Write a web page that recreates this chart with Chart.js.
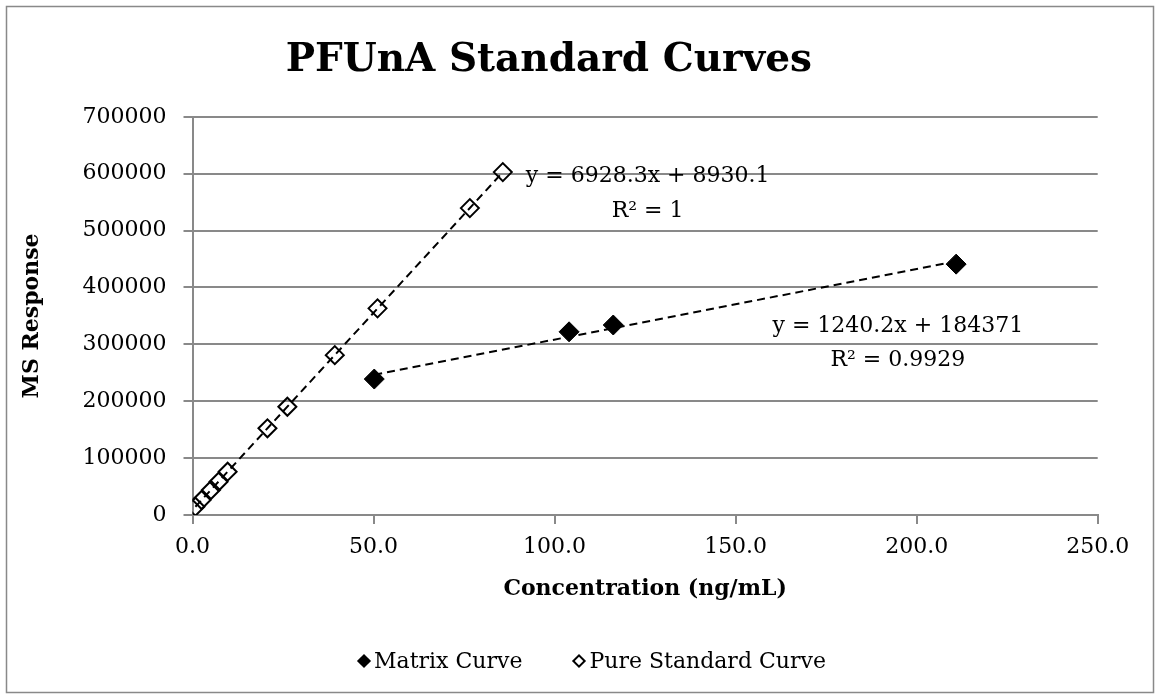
<!DOCTYPE html>
<html>
<head>
<meta charset="utf-8">
<script src="https://cdn.jsdelivr.net/npm/chart.js@4.4.0/dist/chart.umd.min.js"></script>
<style>
  html, body { margin: 0; padding: 0; background: #fff; }
  #wrap { position: relative; width: 1159px; height: 698px; }
  #legend {
    position: absolute; left: 26px; right: 0; top: 646px; height: 30px;
    display: flex; justify-content: center; align-items: center;
    font: 22px 'DejaVu Serif', serif; color: #000; gap: 52px;
  }
  .item { display: flex; align-items: center; gap: 5px; line-height: 30px; }
  .mark { width: 10px; height: 10px; transform: rotate(45deg); box-sizing: border-box; }
  .mark.filled { background: #000; }
  .mark.open { background: #fff; border: 2px solid #000; }
</style>
</head>
<body>
<div id="wrap">
  <canvas id="chartCurves" width="1159" height="698"></canvas>
  <div id="legend"></div>
</div>
<script>
// --- DATA ---
const matrixConc = [50.2, 104.0, 116.2, 210.9];
const matrixResp = [239000, 322000, 334000, 441000];

const pureConc = [0.8, 2.5, 5.1, 7.2, 9.7, 20.7, 26.2, 39.3, 51.1, 76.6, 85.7];
const pureResp = [14600, 26400, 43900, 58500, 76100, 152400, 190300, 281000, 363300, 539500, 602800];

// linear fit coefficients (slope, intercept) and R² shown on the chart
const matrixFit = [1240.2, 184371];
const pureFit = [6928.3, 8930.1];
const matrixR2 = '0.9929';
const pureR2 = '1';

const xTicks = [0, 50, 100, 150, 200, 250];
const yTicks = [0, 100000, 200000, 300000, 400000, 500000, 600000, 700000];

// --- HELPERS ---
const toPoints = (xs, ys) => xs.map((x, i) => ({ x: x, y: ys[i] }));
// trendline runs between the smallest and largest concentration of a series
const fitLine = (xs, fit) => [Math.min(...xs), Math.max(...xs)].map(x => ({ x: x, y: fit[0] * x + fit[1] }));
const eqText = fit => 'y = ' + fit[0] + 'x + ' + fit[1];

const FONT = "'DejaVu Serif', serif";
const GRID = '#898989';

Chart.defaults.font.family = FONT;
Chart.defaults.color = '#000';

// outer frame of the chart
const framePlugin = {
    id: 'frame',
    beforeDraw(chart) {
        const ctx = chart.ctx;
        ctx.save();
        ctx.fillStyle = '#fff';
        ctx.fillRect(0, 0, chart.width, chart.height);
        ctx.strokeStyle = GRID;
        ctx.lineWidth = 1.5;
        ctx.strokeRect(6.5, 6.5, chart.width - 12, chart.height - 12);
        ctx.restore();
    }
};

// regression equations, anchored in data coordinates
const equationPlugin = {
    id: 'equations',
    afterDatasetsDraw(chart, args, opts) {
        const { ctx, scales } = chart;
        ctx.save();
        ctx.font = '22px ' + FONT;
        ctx.fillStyle = '#000';
        ctx.textAlign = 'center';
        ctx.textBaseline = 'middle';
        opts.labels.forEach(l => {
            const px = scales.x.getPixelForValue(l.x);
            const py = scales.y.getPixelForValue(l.y);
            l.lines.forEach((t, i) => ctx.fillText(t, px, py + i * l.gap));
        });
        ctx.restore();
    }
};

const ctxCurves = document.getElementById('chartCurves').getContext('2d');
const chart = new Chart(ctxCurves, {
    type: 'scatter',
    data: {
        datasets: [
            {
                label: 'Matrix Curve',
                data: toPoints(matrixConc, matrixResp),
                pointStyle: 'rectRot',
                pointRadius: 10,
                backgroundColor: '#000',
                borderColor: '#000',
                borderWidth: 1
            },
            {
                label: 'Pure Standard Curve',
                data: toPoints(pureConc, pureResp),
                pointStyle: 'rectRot',
                pointRadius: 9,
                backgroundColor: 'rgba(0,0,0,0)',
                borderColor: '#000',
                borderWidth: 2
            },
            {
                label: 'matrix fit',
                data: fitLine(matrixConc, matrixFit),
                showLine: true,
                pointRadius: 0,
                borderColor: '#000',
                borderWidth: 2,
                borderDash: [8, 5]
            },
            {
                label: 'pure fit',
                data: fitLine(pureConc, pureFit),
                showLine: true,
                pointRadius: 0,
                borderColor: '#000',
                borderWidth: 2,
                borderDash: [8, 5]
            }
        ]
    },
    options: {
        responsive: false,
        animation: false,
        layout: { padding: { left: 0, right: 61.3, top: 0, bottom: 58 } },
        plugins: {
            legend: { display: false },
            tooltip: { enabled: false },
            title: {
                display: true,
                text: 'PFUnA Standard Curves',
                font: { size: 39, weight: 'bold' },
                color: '#000',
                padding: { top: 37, bottom: 33 }
            },
            equations: {
                labels: [
                    { x: 125.7, y: 594600, gap: 35, lines: [eqText(pureFit), 'R² = ' + pureR2] },
                    { x: 194.8, y: 330900, gap: 33.5, lines: [eqText(matrixFit), 'R² = ' + matrixR2] }
                ]
            }
        },
        scales: {
            x: {
                type: 'linear',
                min: 0,
                max: 250,
                afterBuildTicks: s => { s.ticks = xTicks.map(v => ({ value: v })); },
                afterFit: s => { s.height = 125; },
                ticks: {
                    font: { size: 22 },
                    padding: 10,
                    callback: v => v.toFixed(1)
                },
                grid: { drawOnChartArea: false, color: GRID, lineWidth: 2, tickLength: 9 },
                border: { color: GRID, width: 2 },
                title: {
                    display: true,
                    text: 'Concentration (ng/mL)',
                    font: { size: 22, weight: 'bold' },
                    padding: { top: 0, bottom: 37.8 }
                }
            },
            y: {
                min: 0,
                max: 700000,
                afterBuildTicks: s => { s.ticks = yTicks.map(v => ({ value: v })); },
                afterFit: s => { s.width = 192.5; },
                ticks: {
                    font: { size: 22 },
                    padding: 17,
                    callback: v => String(v)
                },
                grid: { color: GRID, lineWidth: 2, tickLength: 9 },
                border: { color: GRID, width: 2 },
                title: {
                    display: true,
                    text: 'MS Response',
                    font: { size: 22, weight: 'bold' },
                    padding: { top: 18.8, bottom: 0 }
                }
            }
        }
    },
    plugins: [framePlugin, equationPlugin]
});

// legend built from the two measured series
const legendEl = document.getElementById('legend');
chart.data.datasets.slice(0, 2).forEach((ds, i) => {
    const item = document.createElement('div');
    item.className = 'item';
    const mark = document.createElement('span');
    mark.className = 'mark ' + (i === 0 ? 'filled' : 'open');
    const txt = document.createElement('span');
    txt.textContent = ds.label;
    item.appendChild(mark);
    item.appendChild(txt);
    legendEl.appendChild(item);
});
</script>
</body>
</html>
